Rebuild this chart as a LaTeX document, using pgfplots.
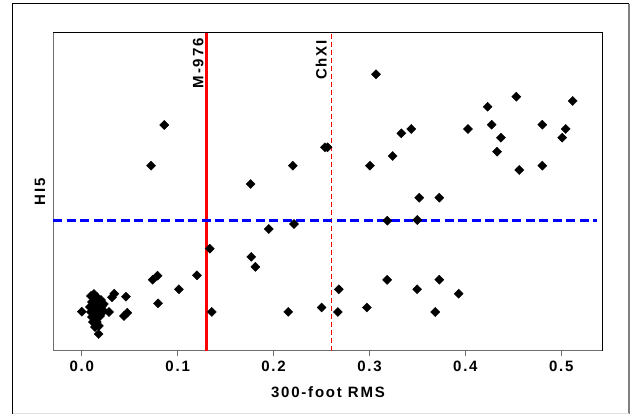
\documentclass[border=0pt]{standalone}
\usepackage{pgfplots}
\pgfplotsset{compat=1.18}
\usepackage{fontspec}
\setmainfont{Liberation Sans}
\newfontfamily\labfam[LetterSpace=12]{Liberation Sans}
\newcommand\lf{\labfam\bfseries\fontsize{15pt}{17pt}\selectfont}

\definecolor{axgray}{RGB}{110,110,110}
\definecolor{refred}{RGB}{255,0,0}

\pgfplotstableread{
x y
0.0860 225.7
0.0722 185.0
0.1760 166.7
0.2200 185.0
0.2536 203.4
0.2563 203.4
0.1950 121.7
0.2213 126.7
0.3068 276.4
0.3005 185.0
0.3242 194.7
0.3332 217.4
0.3436 221.7
0.3519 153.0
0.3728 153.0
0.3186 130.0
0.3498 130.7
0.4027 221.7
0.4232 244.0
0.4274 226.0
0.4371 213.0
0.4330 199.0
0.4531 254.0
0.4562 180.7
0.4802 226.0
0.4802 185.0
0.5010 213.0
0.5046 221.7
0.5119 249.7
0.0000 39.0
0.0176 16.7
0.0315 53.4
0.0339 57.0
0.0461 54.0
0.0475 38.0
0.0440 34.7
0.0739 71.0
0.0790 75.0
0.0795 47.4
0.1013 61.4
0.1201 75.4
0.1335 102.0
0.1356 38.8
0.1767 93.8
0.1810 83.8
0.2153 38.8
0.2501 43.2
0.2680 61.4
0.2670 38.7
0.2973 43.2
0.3184 70.8
0.3497 61.4
0.3728 71.0
0.3686 38.7
0.3930 57.0
0.0096 54.7
0.0127 56.7
0.0158 53.7
0.0106 48.7
0.0138 49.7
0.0179 48.7
0.0086 43.7
0.0127 43.7
0.0169 43.7
0.0211 44.7
0.0096 38.7
0.0138 38.7
0.0179 39.7
0.0231 39.7
0.0284 38.7
0.0106 33.7
0.0148 33.7
0.0190 34.7
0.0117 28.7
0.0158 28.7
0.0138 23.7
0.0179 24.7
0.0200 50.7
0.0231 46.7
}\pts

\begin{document}
\begin{tikzpicture}[x=1pt,y=1pt]
\useasboundingbox (0,0) rectangle (634,415);
% outer frame
\draw[black, line width=1pt] (12.5,1.5) -- (12.5,411) -- (629,411);
\draw[gray, line width=1.2pt] (629,411) -- (629,1.5);
\draw[black!12, line width=1pt] (12.5,1.5) -- (629,1.5);

\begin{axis}[
at={(53.1pt,64.3pt)}, anchor=south west,
scale only axis,
width=549.7pt, height=318pt,
xmin=-0.0299, xmax=0.5433,
ymin=0, ymax=318,
axis line style={draw=none},
xtick={0,0.1,0.2,0.3,0.4,0.5},
xticklabels={0.0,0.1,0.2,0.3,0.4,0.5},
ytick=\empty,
tick align=outside,
xtick pos=bottom,
major tick length=5pt,
xtick style={axgray, line width=1pt},
xticklabel style={font=\lf, text=black, yshift=-2pt},
xlabel={300-foot RMS},
xlabel style={font=\lf, yshift=-8pt},
]
\draw[axgray, line width=1.3pt] (rel axis cs:0,1) -- (rel axis cs:0,0) -- (rel axis cs:1,0);
\draw[black, line width=1pt] (rel axis cs:0,1) -- (rel axis cs:1,1) -- (rel axis cs:1,0);
\addplot[refred, line width=2.7pt] coordinates {(0.13,0) (0.13,318)};
\addplot[refred, line width=1.2pt, dash pattern=on 5pt off 3pt] coordinates {(0.2607,0) (0.2607,318)};
\addplot[blue, line width=3pt, dash pattern=on 9pt off 4.5pt] coordinates {(-0.0299,130) (0.5373,130)};
\addplot[only marks, mark=square*, mark size=3.2pt, mark options={rotate=45, black, fill=black}] table[x=x, y=y] {\pts};
\end{axis}

\node[rotate=90, anchor=base, font=\lf, inner sep=0] at (45,223.3) {HI5};
\node[rotate=90, anchor=base east, font=\lf, inner sep=0] at (203.3,376.7) {M-976};
\node[rotate=90, anchor=base east, font=\lf, inner sep=0] at (326.7,375) {ChXI};
\end{tikzpicture}
\end{document}
